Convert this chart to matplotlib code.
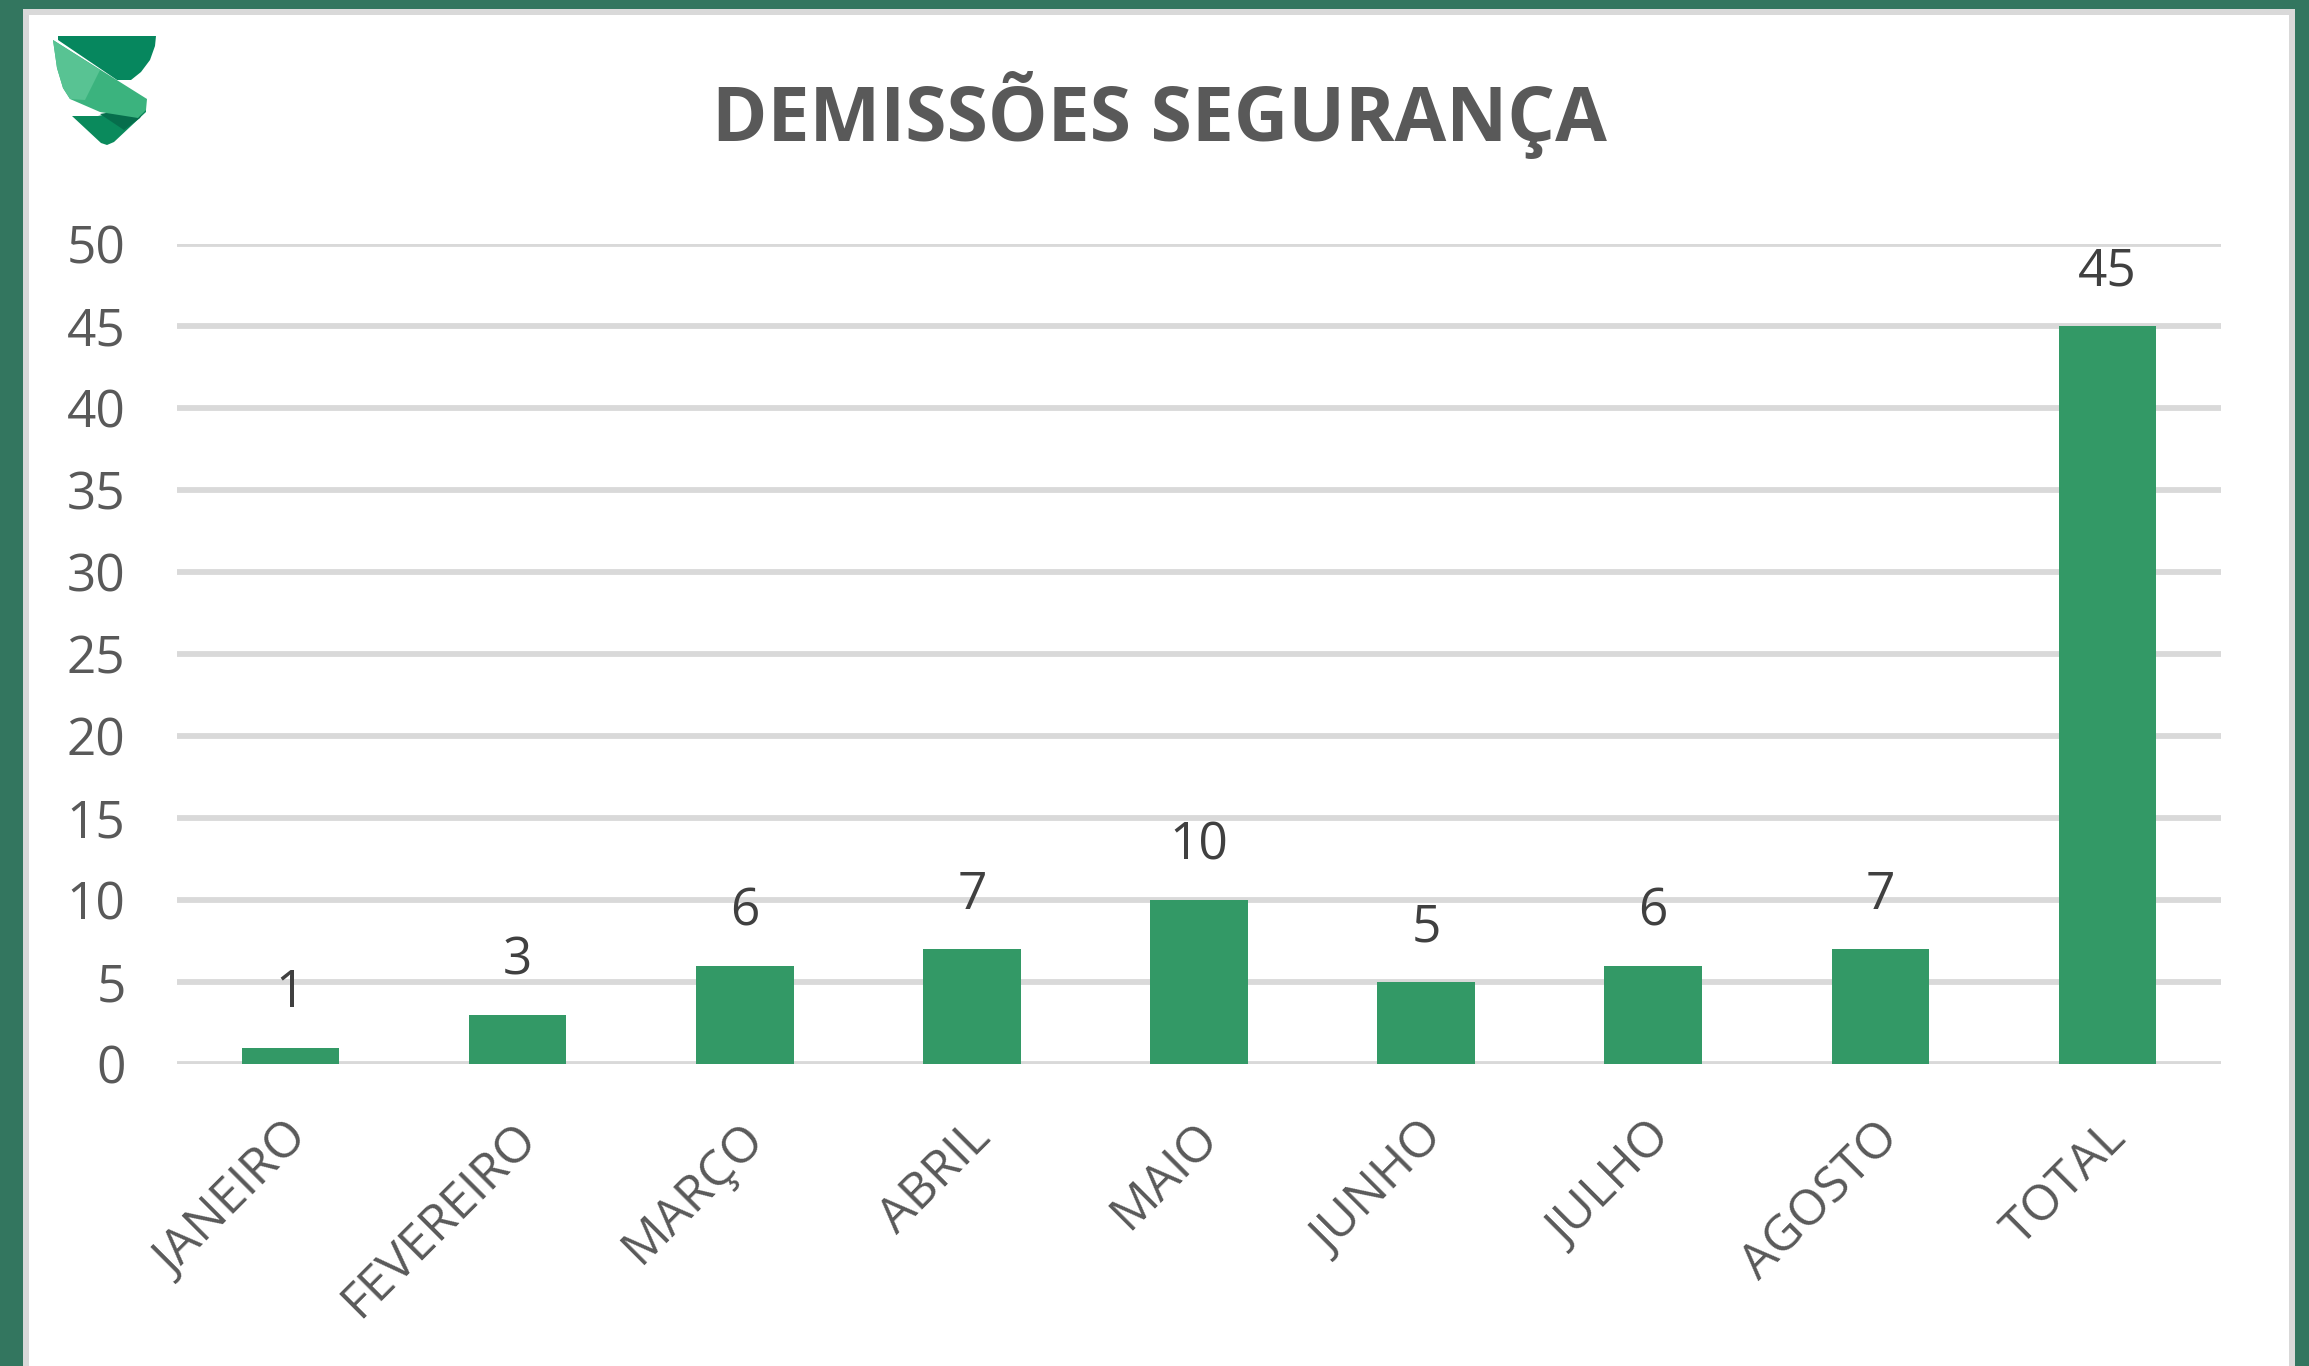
import matplotlib.pyplot as plt
import matplotlib.transforms as mtransforms
from matplotlib.patches import Rectangle, Polygon

# Demissões por mês - segurança
meses = ['JANEIRO', 'FEVEREIRO', 'MARÇO', 'ABRIL', 'MAIO',
         'JUNHO', 'JULHO', 'AGOSTO', 'TOTAL']
demissoes = [1, 3, 6, 7, 10, 5, 6, 7, 45]
y_ticks = list(range(0, 51, 5))

W, H = 2309, 1366
verde_borda = '#33765F'
verde_barra = '#339966'
cinza_grade = '#D9D9D9'

plt.rcParams['font.family'] = ['Open Sans', 'DejaVu Sans']

fig = plt.figure(figsize=(W / 100, H / 100), dpi=100)
fig.patch.set_facecolor(verde_borda)


def px(x, y):
    # pixel coords (origin top-left) -> figure fraction
    return x / W, 1 - y / H


# moldura: cinza + fundo branco
fig.patches.append(Rectangle(px(23, H), (2295 - 23) / W, (H - 9) / H,
                             transform=fig.transFigure, facecolor=cinza_grade,
                             edgecolor='none', zorder=-3))
fig.patches.append(Rectangle(px(29, H), (2289 - 29) / W, (H - 15) / H,
                             transform=fig.transFigure, facecolor='white',
                             edgecolor='none', zorder=-2))

# logo "S"
def poly(pts, color):
    fig.patches.append(Polygon([px(x, y) for x, y in pts], closed=True,
                               transform=fig.transFigure, facecolor=color,
                               edgecolor='none', zorder=-1))

poly([(72, 116), (98, 116), (146, 106), (146, 112), (114, 142), (107, 145), (101, 143)], '#0A8A5C')
poly([(100, 114), (146, 106), (140, 118), (124, 130)], '#066E4C')
poly([(58, 36), (156, 36), (155, 46), (150, 60), (141, 72), (131, 80), (117, 80), (58, 40)], '#06875E')
poly([(53, 40), (147, 99), (146, 110), (138, 118), (100, 112),
      (70, 99), (63, 88), (57, 68)], '#3BB37E')
poly([(53, 40), (100, 70), (85, 100), (70, 99), (63, 88), (57, 68)], '#58C393')

ax = fig.add_axes([177 / W, 1 - 1064 / H, (2221 - 177) / W, (1064 - 244) / H])
ax.set_facecolor('none')

x = list(range(len(meses)))
bars = ax.bar(x, demissoes, width=0.43, color=verde_barra, zorder=3)

for xi, v in zip(x, demissoes):
    ax.annotate(str(v), (xi, v), xytext=(0, 29), textcoords='offset points',
                ha='center', va='baseline', fontsize=37, color='#404040')

ax.set_xlim(-0.5, len(meses) - 0.5)
ax.set_ylim(0, 50)
ax.set_yticks(y_ticks)
ax.set_yticklabels([str(t) for t in y_ticks])
ax.grid(axis='y', color=cinza_grade, linewidth=4.2, zorder=0)
ax.set_axisbelow(True)

ax.set_xticks(x)
ax.set_xticklabels(meses, rotation=45, ha='right', va='center',
                   rotation_mode='anchor')
ax.tick_params(axis='y', length=0, pad=37, labelsize=37, labelcolor='#595959')
ax.tick_params(axis='x', length=0, pad=48, labelsize=36, labelcolor='#595959')

# rótulos do eixo x um pouco à direita do centro da barra
shift = mtransforms.ScaledTranslation(8 / 72, 0, fig.dpi_scale_trans)
for lbl in ax.get_xticklabels():
    lbl.set_transform(lbl.get_transform() + shift)

for s in ax.spines.values():
    s.set_visible(False)

fig.text(1159 / W, 1 - 115 / H, 'DEMISSÕES SEGURANÇA', ha='center', va='center',
         fontsize=54, fontweight='bold', color='#595959')

fig.savefig('out.png', dpi=100, facecolor=fig.get_facecolor())
